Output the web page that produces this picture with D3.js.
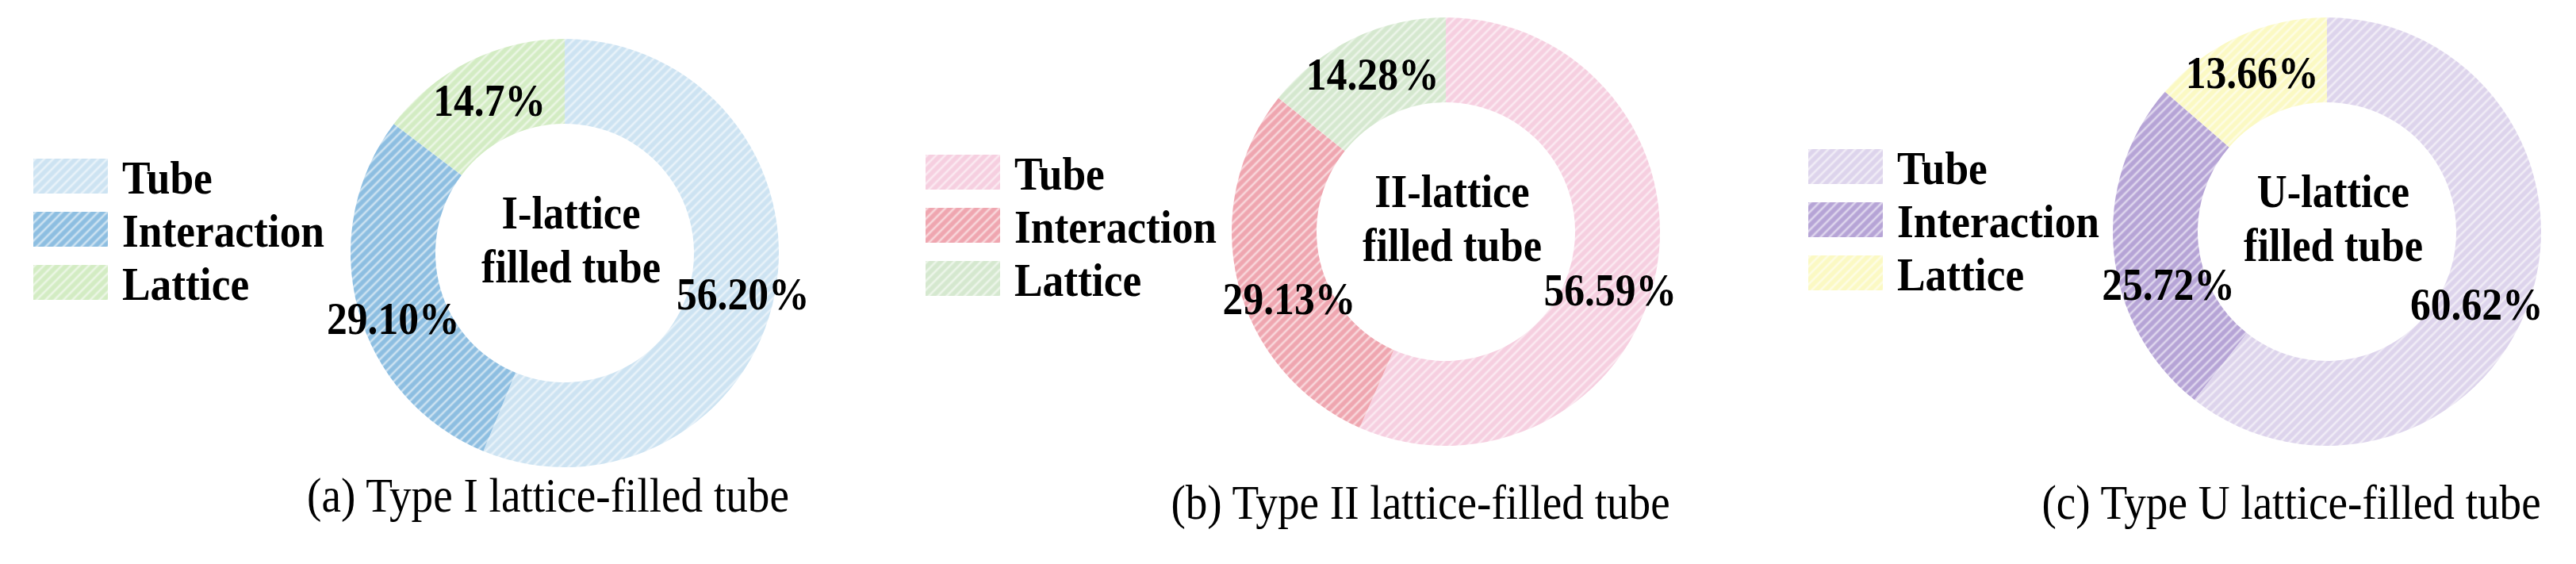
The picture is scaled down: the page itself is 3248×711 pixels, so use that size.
<!DOCTYPE html>
<html>
<head>
<meta charset="utf-8">
<script src="https://cdn.jsdelivr.net/npm/d3@7"></script>
<style>
  body { margin: 0; background: #fff; }
  text { font-family: "Liberation Serif", "Times New Roman", serif; }
</style>
</head>
<body>
<div id="chart"></div>
<script>
// categories shared by all three donuts
var categories = ["Tube", "Interaction", "Lattice"];

// share of each part (%), per tube type
var shareTypeI = [56.20, 29.10, 14.7];
var shareTypeII = [56.59, 29.13, 14.28];
var shareTypeU = [60.62, 25.72, 13.66];

// labels as printed on the figure
var labelsTypeI = ["56.20%", "29.10%", "14.7%"];
var labelsTypeII = ["56.59%", "29.13%", "14.28%"];
var labelsTypeU = ["60.62%", "25.72%", "13.66%"];

var centerTitles = [["I-lattice", "filled tube"], ["II-lattice", "filled tube"], ["U-lattice", "filled tube"]];
var captions = ["(a) Type I lattice-filled tube", "(b) Type II lattice-filled tube", "(c) Type U lattice-filled tube"];

function init() {
    var w = 3248;
    var h = 711;
    var outerR = 270;
    var innerR = 163;
    var squeeze = 0.89; // the figure's type looks a bit condensed

    var palettes = [
        ["#cde3f2", "#8dbee1", "#d3ecc3"],
        ["#f6cfe0", "#efa6b0", "#d5e8cf"],
        ["#ddd4ec", "#b6a4d6", "#fbf9c3"]
    ];

    // where each panel sits in the figure
    var layout = [
        { cx: 712, cy: 319, legendX: 42, legendY: 200, capX: 691, capY: 645 },
        { cx: 1823, cy: 292, legendX: 1167, legendY: 195, capX: 1791, capY: 654 },
        { cx: 2934, cy: 292, legendX: 2280, legendY: 188, capX: 2889, capY: 654 }
    ];

    // small hand nudges of the % labels away from the arc centroid
    var labelNudge = [
        [[7, 8], [-2, 23], [4, 5]],
        [[-10, 27], [18, 31], [4, 1]],
        [[-21, 18], [21, 45], [-2, 1]]
    ];

    var panels = [
        { shares: shareTypeI, labels: labelsTypeI },
        { shares: shareTypeII, labels: labelsTypeII },
        { shares: shareTypeU, labels: labelsTypeU }
    ];

    var svg = d3.select("#chart")
        .append("svg")
        .attr("width", w)
        .attr("height", h);

    var defs = svg.append("defs");

    // hatched fills: base colour with faint white diagonal stripes
    palettes.forEach(function(pal, p) {
        pal.forEach(function(col, i) {
            var pat = defs.append("pattern")
                .attr("id", "hatch-" + p + "-" + i)
                .attr("patternUnits", "userSpaceOnUse")
                .attr("width", 8)
                .attr("height", 8)
                .attr("patternTransform", "rotate(45)");
            pat.append("rect")
                .attr("width", 8)
                .attr("height", 8)
                .attr("fill", col);
            pat.append("line")
                .attr("x1", 2).attr("y1", 0)
                .attr("x2", 2).attr("y2", 8)
                .attr("stroke", "#fff")
                .attr("stroke-opacity", 0.55)
                .attr("stroke-width", 2.6);
        });
    });

    var pie = d3.pie().sort(null).value(function(d) { return d; });
    var arc = d3.arc().innerRadius(innerR).outerRadius(outerR);
    var labelArc = d3.arc().innerRadius(222).outerRadius(222);

    function place(x, y) {
        return "translate(" + x + "," + y + ") scale(" + squeeze + ",1)";
    }

    panels.forEach(function(panel, p) {
        var L = layout[p];
        var g = svg.append("g")
            .attr("transform", "translate(" + L.cx + "," + L.cy + ")");

        var arcs = pie(panel.shares);

        g.selectAll("path")
            .data(arcs)
            .enter()
            .append("path")
            .attr("d", arc)
            .attr("fill", function(d, i) { return "url(#hatch-" + p + "-" + i + ")"; });

        // percentage labels
        g.selectAll("text.pct")
            .data(arcs)
            .enter()
            .append("text")
            .attr("class", "pct")
            .attr("transform", function(d, i) {
                var c = labelArc.centroid(d);
                var n = labelNudge[p][i];
                return place(c[0] + n[0], c[1] + n[1]);
            })
            .attr("text-anchor", "middle")
            .attr("dy", "0.35em")
            .style("font-size", "58px")
            .style("font-weight", "bold")
            .text(function(d, i) { return panel.labels[i]; });

        // centre title
        g.selectAll("text.title")
            .data(centerTitles[p])
            .enter()
            .append("text")
            .attr("class", "title")
            .attr("transform", function(d, i) { return place(8, -31 + i * 68); })
            .attr("text-anchor", "middle")
            .style("font-size", "59px")
            .style("font-weight", "bold")
            .text(function(d) { return d; });

        // legend
        var legend = svg.selectAll(".legend-" + p)
            .data(categories)
            .enter()
            .append("g")
            .attr("class", "legend-" + p)
            .attr("transform", function(d, i) {
                return "translate(" + L.legendX + "," + (L.legendY + i * 67) + ")";
            });

        legend.append("rect")
            .attr("width", 94)
            .attr("height", 44)
            .attr("fill", function(d, i) { return "url(#hatch-" + p + "-" + i + ")"; });

        legend.append("text")
            .attr("transform", place(112, 22))
            .attr("dy", "0.36em")
            .style("font-size", "60px")
            .style("font-weight", "bold")
            .text(function(d) { return d; });

        // caption
        svg.append("text")
            .attr("transform", place(L.capX, L.capY))
            .attr("text-anchor", "middle")
            .style("font-size", "62px")
            .text(captions[p]);
    });
}

window.onload = init;
</script>
</body>
</html>
